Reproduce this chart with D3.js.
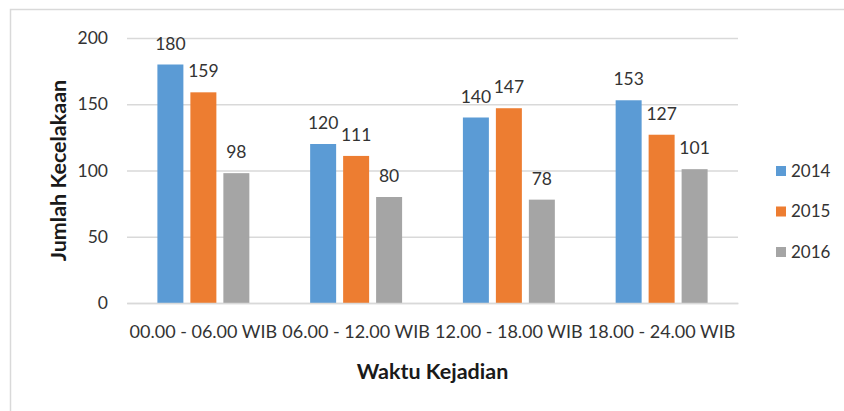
<!DOCTYPE html>
<html>
<head>
<meta charset="utf-8">
<script src="https://cdn.jsdelivr.net/npm/d3@7"></script>
<style>
  body { margin: 0; background: #fff; }
  text { font-family: Lato, 'Open Sans', sans-serif; }
</style>
</head>
<body>
<div id="wrapper"></div>
<script>
/* DATA */
const categories = ['00.00 - 06.00 WIB', '06.00 - 12.00 WIB', '12.00 - 18.00 WIB', '18.00 - 24.00 WIB'];
const seriesNames = ['2014', '2015', '2016'];
const values2014 = [180, 120, 140, 153];
const values2015 = [159, 111, 147, 127];
const values2016 = [98, 80, 78, 101];
const yTicks = [0, 50, 100, 150, 200];
const colors = ['#5B9BD5', '#ED7D31', '#A5A5A5'];

const seriesValues = [values2014, values2015, values2016];
const rows = categories.map((c, i) => ({
  category: c,
  values: seriesNames.map((s, j) => ({ series: s, value: seriesValues[j][i] })),
}));

/* DIMENSIONS */
const dimensions = {
  width: 844,
  height: 411,
  margin: { top: 38, right: 106, bottom: 108, left: 127 },
};
dimensions.boundedWidth = dimensions.width - dimensions.margin.left - dimensions.margin.right;
dimensions.boundedHeight = dimensions.height - dimensions.margin.top - dimensions.margin.bottom;

/* SCALES */
const xScale = d3.scaleBand()
  .domain(categories)
  .range([0, dimensions.boundedWidth])
  .paddingInner(0.398)
  .paddingOuter(0.199);

const xInner = d3.scaleBand()
  .domain(seriesNames)
  .range([0, xScale.bandwidth()])
  .paddingInner(0.212);

const yScale = d3.scaleLinear()
  .domain([0, 200])
  .range([dimensions.boundedHeight, 0]);

const colorScale = d3.scaleOrdinal().domain(seriesNames).range(colors);

/* DRAW */
const svg = d3.select('#wrapper').append('svg')
  .attr('width', dimensions.width)
  .attr('height', dimensions.height);

// chart border
svg.append('rect')
  .attr('x', 10.5).attr('y', 9.5)
  .attr('width', 1000).attr('height', 1000)
  .attr('fill', 'none')
  .attr('stroke', '#D9D9D9')
  .attr('stroke-width', 1.5);

const bounds = svg.append('g')
  .attr('transform', `translate(${dimensions.margin.left},${dimensions.margin.top})`);

// gridlines + y axis
const yAxis = d3.axisLeft(yScale)
  .tickValues(yTicks)
  .tickSize(-dimensions.boundedWidth)
  .tickPadding(19);
const yAxisGroup = bounds.append('g').call(yAxis);
yAxisGroup.select('.domain').remove();
yAxisGroup.selectAll('.tick line').attr('stroke', '#D9D9D9').attr('stroke-width', 1.5);
yAxisGroup.selectAll('.tick text')
  .attr('font-size', 17.5)
  .attr('fill', '#333');

// bars
const groups = bounds.selectAll('g.group')
  .data(rows)
  .join('g')
  .attr('class', 'group')
  .attr('transform', d => `translate(${xScale(d.category)},0)`);

groups.selectAll('rect')
  .data(d => d.values)
  .join('rect')
  .attr('x', d => xInner(d.series))
  .attr('width', xInner.bandwidth())
  .attr('y', d => yScale(d.value))
  .attr('height', d => yScale(0) - yScale(d.value))
  .attr('fill', d => colorScale(d.series));

groups.selectAll('text.value')
  .data(d => d.values)
  .join('text')
  .attr('class', 'value')
  .attr('x', d => xInner(d.series) + xInner.bandwidth() / 2)
  .attr('y', d => yScale(d.value) - 15)
  .attr('text-anchor', 'middle')
  .attr('font-size', 17.5)
  .attr('fill', '#333')
  .text(d => d.value);

// x axis
const xAxis = d3.axisBottom(xScale).tickSize(0).tickPadding(22);
const xAxisGroup = bounds.append('g')
  .attr('transform', `translate(0,${dimensions.boundedHeight})`)
  .call(xAxis);
xAxisGroup.select('.domain').attr('stroke', '#D9D9D9').attr('stroke-width', 1.5);
xAxisGroup.selectAll('.tick text')
  .attr('font-size', 18)
  .attr('fill', '#333');

// axis titles
bounds.append('text')
  .attr('x', dimensions.boundedWidth / 2)
  .attr('y', dimensions.boundedHeight + 76)
  .attr('text-anchor', 'middle')
  .attr('font-size', 21.5)
  .attr('font-weight', 'bold')
  .attr('fill', '#1a1a1a')
  .text('Waktu Kejadian');

bounds.append('text')
  .attr('transform', `translate(${-dimensions.margin.left + 66},${dimensions.boundedHeight / 2}) rotate(-90)`)
  .attr('text-anchor', 'middle')
  .attr('font-size', 21.5)
  .attr('font-weight', 'bold')
  .attr('fill', '#1a1a1a')
  .text('Jumlah Kecelakaan');

// legend
const legend = svg.append('g').attr('transform', 'translate(776,0)');
const legendItems = legend.selectAll('g')
  .data(seriesNames)
  .join('g')
  .attr('transform', (d, i) => `translate(0,${171 + i * 40.5})`);
legendItems.append('rect')
  .attr('x', 0).attr('y', -5)
  .attr('width', 10).attr('height', 10)
  .attr('fill', d => colorScale(d));
legendItems.append('text')
  .attr('x', 15)
  .attr('dy', '0.35em')
  .attr('font-size', 17)
  .attr('fill', '#333')
  .text(d => d);
</script>
</body>
</html>
